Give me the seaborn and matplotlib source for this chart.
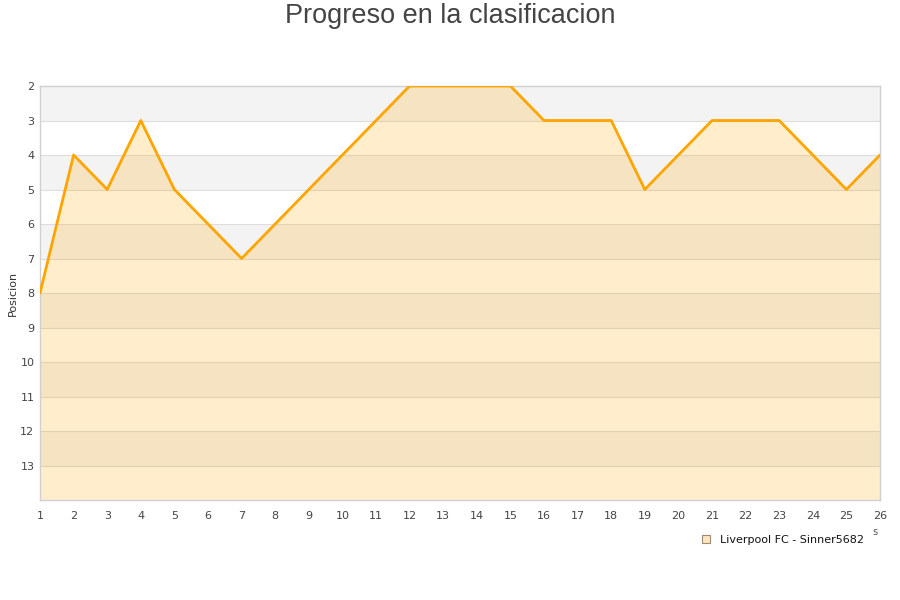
import matplotlib
matplotlib.use("Agg")
import matplotlib.pyplot as plt
import seaborn as sns
import pandas as pd
from matplotlib.lines import Line2D

jornadas = list(range(1, 27))
posiciones = [8, 4, 5, 3, 5, 6, 7, 6, 5, 4, 3, 2, 2, 2, 2, 3, 3, 3, 5, 4, 3, 3, 3, 4, 5, 4]
y_ticks = list(range(2, 14))
serie = "Liverpool FC - Sinner5682"
titulo = "Progreso en la clasificacion"
y_label = "Posicion"

df = pd.DataFrame({"Jornada": jornadas, "Posicion": posiciones})

sns.set_theme(style="white")
plt.rcParams["font.family"] = ["DejaVu Sans"]

fig = plt.figure(figsize=(9, 6), dpi=100)
ax = fig.add_axes([40 / 900, 1 - 500 / 600, 840 / 900, 414 / 600])

# alternating bands
for y0 in range(2, 14):
    if y0 % 2 == 0:
        ax.axhspan(y0, y0 + 1, color="#f3f3f3", zorder=0, lw=0)
for y0 in range(3, 14):
    ax.axhline(y0, color="#dddddd", lw=0.8, zorder=0.5)

ax.fill_between(df["Jornada"], df["Posicion"], 14, color="#FFA500", alpha=0.2, lw=0, zorder=1)
sns.lineplot(data=df, x="Jornada", y="Posicion", ax=ax, color="#FFA500", lw=2.0, zorder=3)

ax.set_xlim(1, 26)
ax.set_ylim(14, 2)
ax.set_xticks(jornadas)
ax.set_yticks(y_ticks)
ax.tick_params(axis="both", labelsize=8, colors="#444444", length=0)
ax.tick_params(axis="x", pad=8)
ax.tick_params(axis="y", pad=4)
ax.set_xlabel("")
ax.set_ylabel(y_label, fontsize=8, color="#333333", labelpad=2)
for s in ax.spines.values():
    s.set_color("#d0d0d0")
    s.set_linewidth(1)

fig.text(0.5, 1 - 16 / 600, titulo, ha="center", va="center", fontsize=19.5,
         color="#444444", family=["Liberation Sans", "DejaVu Sans"])

fig.text(875 / 900, 1 - 532 / 600, "s", ha="center", va="center", fontsize=7, color="#555555")

handle = Line2D([], [], marker="s", linestyle="none", markersize=6,
                markerfacecolor="#ffe6bf", markeredgecolor="#a08a70", markeredgewidth=0.8)
fig.legend([handle], [serie], loc="center left", bbox_to_anchor=(696 / 900, 1 - 540 / 600),
           frameon=False, fontsize=8, handletextpad=0.8, borderaxespad=0, handlelength=1.0,
           labelcolor="#111111")

fig.savefig("out.png", dpi=100)
